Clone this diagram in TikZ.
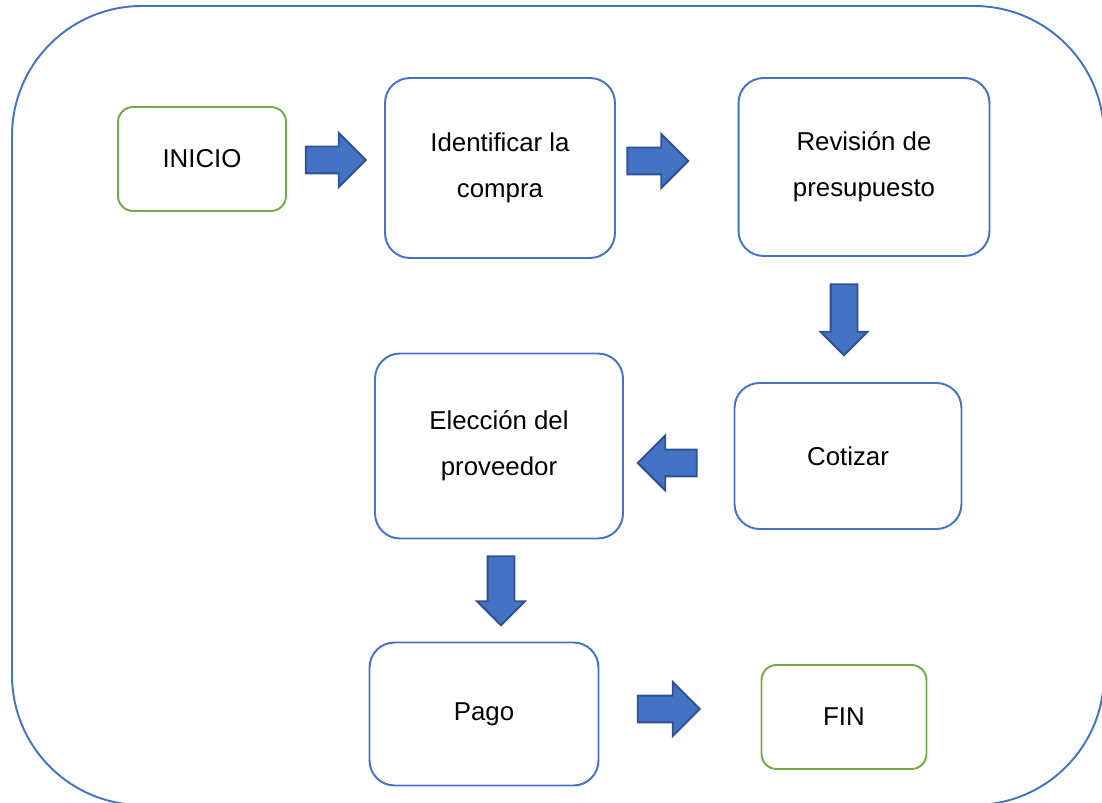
\documentclass[tikz,border=0pt]{standalone}
\usepackage{fontspec}
\setmainfont{Liberation Sans}
\usepackage{tikz}
\usetikzlibrary{shapes.arrows}
\usetikzlibrary{positioning}
\definecolor{boxblue}{HTML}{4472C4}
\definecolor{boxgreen}{HTML}{70AD47}
\definecolor{arrowedge}{HTML}{2F528F}

\begin{document}
\begin{tikzpicture}[x=0.02cm,y=-0.02cm,line width=1.1pt]
  \tikzstyle{stepbox}=[draw=boxblue,rounded corners=0.5cm,align=center,font=\fontsize{14.7}{26}\selectfont]
  \tikzstyle{endbox}=[stepbox,draw=boxgreen,rounded corners=0.3cm]
  \tikzstyle{blockarrow}=[single arrow,draw=arrowedge,fill=boxblue,inner sep=0.25cm,single arrow head indent=0pt]
  \useasboundingbox (0,0) rectangle (1102,803);
  \draw[boxblue,rounded corners=2.6cm] (12,6) rectangle (1104,805);
  % process boxes
  \node[endbox,minimum width=3.36cm,minimum height=2.08cm] (inicio) at (202,159) {INICIO};
  \node[stepbox,minimum width=4.6cm,minimum height=3.6cm] (ident) at (500,168) {Identificar la\\compra};
  \node[stepbox,minimum width=5.02cm,minimum height=3.56cm] (revision) at (864,167) {Revisión de\\presupuesto};
  \node[stepbox,minimum width=4.54cm,minimum height=2.92cm] (cotizar) at (848,456) {Cotizar};
  \node[stepbox,minimum width=4.96cm,minimum height=3.7cm] (eleccion) at (499,446) {Elección del\\proveedor};
  \node[stepbox,minimum width=4.58cm,minimum height=2.86cm] (pago) at (484,714) {Pago};
  \node[endbox,minimum width=3.3cm,minimum height=2.08cm] (fin) at (844,717) {FIN};
  % block arrows
  \foreach \ax/\ay/\rot/\len/\ext/\aname in {329/160/0/1.2/0.27/arrA, 651/161/0/1.22/0.27/arrB,
      844/313/270/1.42/0.2/arrC, 674/463/180/1.18/0.28/arrD, 501/584/270/1.38/0.21/arrE,
      662/709/0/1.24/0.27/arrF}
    \node[blockarrow,shape border rotate=\rot,minimum height=\len cm,single arrow head extend=\ext cm] (\aname) at (\ax,\ay) {};
\end{tikzpicture}
\end{document}
